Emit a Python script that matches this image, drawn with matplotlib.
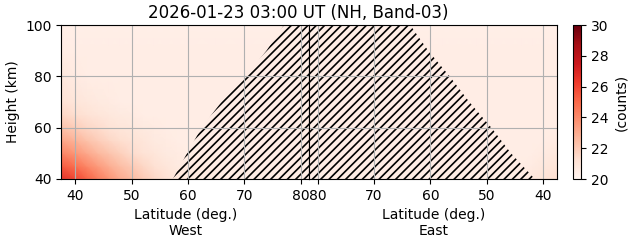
import numpy as np
import matplotlib
matplotlib.use("Agg")
import matplotlib.pyplot as plt
from matplotlib.colors import Normalize

plt.rcParams["hatch.linewidth"] = 1.2

# ---- data ----
title = "2026-01-23 03:00 UT (NH, Band-03)"
lat_nodes = [37.5, 40, 42, 44, 46, 48, 50, 52, 54, 56, 58, 60, 65, 70, 75, 81.5]
height_nodes = [40, 45, 50, 55, 60, 65, 70, 80, 90, 100]

counts_west = [
    [26.6, 25.9, 25.2, 24.4, 23.7, 23.0, 22.5, 22.0, 21.6, 21.2, 20.9, 20.7, 20.6, 20.5, 20.5, 20.5],
    [25.4, 24.8, 24.1, 23.5, 22.9, 22.4, 22.0, 21.6, 21.2, 20.9, 20.7, 20.6, 20.5, 20.5, 20.5, 20.5],
    [24.2, 23.6, 23.1, 22.6, 22.2, 21.8, 21.4, 21.1, 20.9, 20.7, 20.6, 20.5, 20.5, 20.5, 20.5, 20.5],
    [23.2, 22.7, 22.3, 21.9, 21.6, 21.3, 21.1, 20.9, 20.7, 20.6, 20.5, 20.5, 20.5, 20.5, 20.5, 20.5],
    [22.3, 21.9, 21.6, 21.4, 21.1, 20.9, 20.8, 20.7, 20.6, 20.5, 20.5, 20.5, 20.5, 20.5, 20.5, 20.5],
    [21.6, 21.3, 21.1, 20.9, 20.8, 20.7, 20.6, 20.5, 20.5, 20.5, 20.5, 20.5, 20.5, 20.5, 20.5, 20.5],
    [21.1, 20.9, 20.8, 20.7, 20.6, 20.5, 20.5, 20.5, 20.5, 20.5, 20.5, 20.5, 20.5, 20.5, 20.5, 20.5],
    [20.8, 20.6, 20.5, 20.5, 20.5, 20.5, 20.5, 20.5, 20.5, 20.5, 20.5, 20.5, 20.5, 20.5, 20.5, 20.5],
    [20.5, 20.5, 20.5, 20.5, 20.5, 20.5, 20.5, 20.5, 20.5, 20.5, 20.5, 20.5, 20.5, 20.5, 20.5, 20.5],
    [20.4, 20.4, 20.4, 20.4, 20.4, 20.4, 20.4, 20.4, 20.4, 20.4, 20.4, 20.4, 20.4, 20.4, 20.4, 20.4],
]
counts_east = [
    [21.3, 21.0, 20.8, 20.6, 20.5, 20.5, 20.5, 20.5, 20.5, 20.5, 20.5, 20.5, 20.5, 20.5, 20.5, 20.5],
    [21.0, 20.8, 20.6, 20.5, 20.5, 20.5, 20.5, 20.5, 20.5, 20.5, 20.5, 20.5, 20.5, 20.5, 20.5, 20.5],
    [20.8, 20.6, 20.5, 20.5, 20.5, 20.5, 20.5, 20.5, 20.5, 20.5, 20.5, 20.5, 20.5, 20.5, 20.5, 20.5],
    [20.6, 20.5, 20.5, 20.5, 20.5, 20.5, 20.5, 20.5, 20.5, 20.5, 20.5, 20.5, 20.5, 20.5, 20.5, 20.5],
    [20.5, 20.5, 20.5, 20.5, 20.5, 20.5, 20.5, 20.5, 20.5, 20.5, 20.5, 20.5, 20.5, 20.5, 20.5, 20.5],
    [20.5, 20.5, 20.5, 20.5, 20.5, 20.5, 20.5, 20.5, 20.5, 20.5, 20.5, 20.5, 20.5, 20.5, 20.5, 20.5],
    [20.5, 20.5, 20.5, 20.5, 20.5, 20.5, 20.5, 20.5, 20.5, 20.5, 20.5, 20.5, 20.5, 20.5, 20.5, 20.5],
    [20.5, 20.5, 20.5, 20.5, 20.5, 20.5, 20.5, 20.5, 20.5, 20.5, 20.5, 20.5, 20.5, 20.5, 20.5, 20.5],
    [20.5, 20.5, 20.5, 20.5, 20.5, 20.5, 20.5, 20.5, 20.5, 20.5, 20.5, 20.5, 20.5, 20.5, 20.5, 20.5],
    [20.4, 20.4, 20.4, 20.4, 20.4, 20.4, 20.4, 20.4, 20.4, 20.4, 20.4, 20.4, 20.4, 20.4, 20.4, 20.4],
]

# latitude where the hatched region begins, per height
boundary_heights = [40, 50, 60, 70, 80, 90, 100]
boundary_west = [57.3, 59.8, 62.4, 65.9, 70.2, 73.9, 77.0]
boundary_east = [41.5, 45.7, 49.2, 53.1, 56.6, 60.4, 63.6]

lat_ticks = [40, 50, 60, 70, 80]
cbar_ticks = [20, 22, 24, 26, 28, 30]
vmin, vmax = 20, 30
lat_min, lat_max = 37.5, 81.5
h_min, h_max = 40, 100

# ---- figure ----
W, H = 631, 243
fig = plt.figure(figsize=(W / 100, H / 100), dpi=100)
axw = fig.add_axes([61.3 / W, 64 / H, 248 / W, 154 / H])
axe = fig.add_axes([309.3 / W, 64 / H, 248 / W, 154 / H])
cax = fig.add_axes([572.7 / W, 64 / H, 8.3 / W, 154 / H])

norm = Normalize(vmin=vmin, vmax=vmax)
LAT, HGT = np.meshgrid(lat_nodes, height_nodes)

mw = axw.pcolormesh(LAT, HGT, np.array(counts_west), cmap="Reds", norm=norm,
                    shading="gouraud", zorder=0)
axe.pcolormesh(LAT, HGT, np.array(counts_east), cmap="Reds", norm=norm,
               shading="gouraud", zorder=0)

axw.fill_betweenx(boundary_heights, boundary_west, lat_max, facecolor="none",
                  edgecolor="k", hatch="////", linewidth=0, zorder=1)
axe.fill_betweenx(boundary_heights, lat_max, boundary_east, facecolor="none",
                  edgecolor="k", hatch="////", linewidth=0, zorder=1)

axw.set_xlim(lat_min, lat_max)
axe.set_xlim(lat_max, lat_min)
for ax in (axw, axe):
    ax.set_ylim(h_min, h_max)
    ax.set_xticks(lat_ticks)
    ax.set_yticks([40, 60, 80, 100])
    ax.grid(True, color="#b0b0b0", linewidth=0.8)

axe.tick_params(left=False, labelleft=False)
axw.set_ylabel("Height (km)")
axw.set_xlabel("Latitude (deg.)\nWest")
axe.set_xlabel("Latitude (deg.)\nEast")

cb = fig.colorbar(mw, cax=cax)
cb.set_ticks(cbar_ticks)
cb.set_label("(counts)")

fig.text(298.5 / W, 1 - 17.5 / H, title, ha="center", va="baseline", fontsize=12)

fig.savefig("out.png", dpi=100)
